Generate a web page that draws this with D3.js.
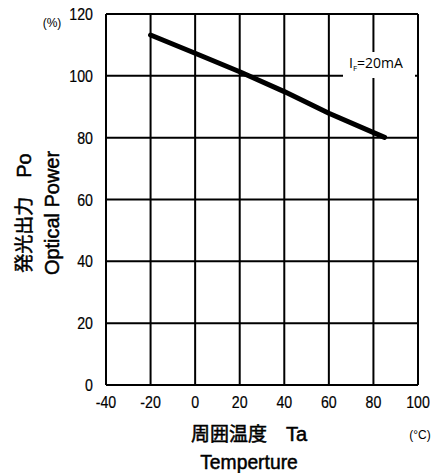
<!DOCTYPE html>
<html><head><meta charset="utf-8">
<script src="https://cdn.jsdelivr.net/npm/d3@7"></script>
<style>body{margin:0;background:#fff}svg{display:block}text{font-family:"Liberation Sans",Arial,sans-serif;fill:#000}.ttl{stroke:#000;stroke-width:0.5px}.tk{stroke:#000;stroke-width:0.2px}</style>
</head><body>
<script>
const temps = [-20, 0, 20, 40, 60, 85];
const power = [113.2, 107.3, 101.3, 94.9, 87.9, 80.1];
const xTicks = [-40, -20, 0, 20, 40, 60, 80, 100];
const yTicks = [0, 20, 40, 60, 80, 100, 120];

const W = 437, H = 473;
const svg = d3.select("body").append("svg").attr("width", W).attr("height", H);
const x = d3.scaleLinear().domain([-40, 100]).range([106, 418]);
const y = d3.scaleLinear().domain([0, 120]).range([385, 14]);
const SX = 0.86;

const g = svg.append("g");
g.selectAll(".vg").data(xTicks).enter().append("line")
  .attr("x1", d => x(d)).attr("x2", d => x(d)).attr("y1", y(0)).attr("y2", y(120))
  .attr("stroke", "#000").attr("stroke-width", 2);
g.selectAll(".hg").data(yTicks).enter().append("line")
  .attr("x1", x(-40)).attr("x2", x(100)).attr("y1", d => y(d)).attr("y2", d => y(d))
  .attr("stroke", "#000").attr("stroke-width", 2);

g.selectAll(".yt").data(yTicks).enter().append("text").attr("class", "tk")
  .attr("transform", d => `translate(93,${y(d) + 6}) scale(${SX},1)`)
  .attr("text-anchor", "end").style("font-size", "16.5px").text(d => d);
g.selectAll(".xt").data(xTicks).enter().append("text").attr("class", "tk")
  .attr("transform", d => `translate(${x(d)},408) scale(${SX},1)`)
  .attr("text-anchor", "middle").style("font-size", "16.5px").text(d => d);

const line = d3.line().x((d, i) => x(temps[i])).y(d => y(d));
g.append("path").datum(power).attr("d", line)
  .attr("fill", "none").attr("stroke", "#000").attr("stroke-width", 5)
  .attr("stroke-linecap", "round").attr("stroke-linejoin", "round");

g.append("rect").attr("x", 343).attr("y", 52).attr("width", 72).attr("height", 26).attr("fill", "#fff");
const lab = g.append("text").attr("x", 349).attr("y", 68).style("font-size", "14px")
  .style("font-family", "'Open Sans','Noto Sans',sans-serif");
lab.append("tspan").text("I");
lab.append("tspan").attr("dy", 3).style("font-size", "8px").text("F");
lab.append("tspan").attr("dy", -3).text("=20mA");

g.append("text").attr("x", 52).attr("y", 27).attr("text-anchor", "middle").style("font-size", "12px").text("(%)");
g.append("text").attr("x", 420).attr("y", 439).attr("text-anchor", "middle").style("font-size", "12px").text("(°C)");

const t1 = g.append("text").attr("class", "ttl").attr("x", 249).attr("y", 441).attr("text-anchor", "middle").style("font-size", "19px");
t1.append("tspan").style("font-family", "'Noto Sans CJK JP',sans-serif").text("周囲温度\u3000");
t1.append("tspan").style("font-size", "20px").text("Ta");
g.append("text").attr("class", "ttl").attr("transform", "translate(249,469) scale(0.92,1)").attr("text-anchor", "middle").style("font-size", "21px").text("Temperture");
const t2 = g.append("text").attr("class", "ttl").attr("transform", "translate(31,213) rotate(-90)").attr("text-anchor", "middle").style("font-size", "19px");
t2.append("tspan").style("font-family", "'Noto Sans CJK JP',sans-serif").text("発光出力\u3000");
t2.append("tspan").style("font-size", "20px").text("Po");
g.append("text").attr("class", "ttl").attr("transform", "translate(59,213) rotate(-90) scale(0.95,1)").attr("text-anchor", "middle").style("font-size", "21px").text("Optical Power");
</script>
</body></html>
